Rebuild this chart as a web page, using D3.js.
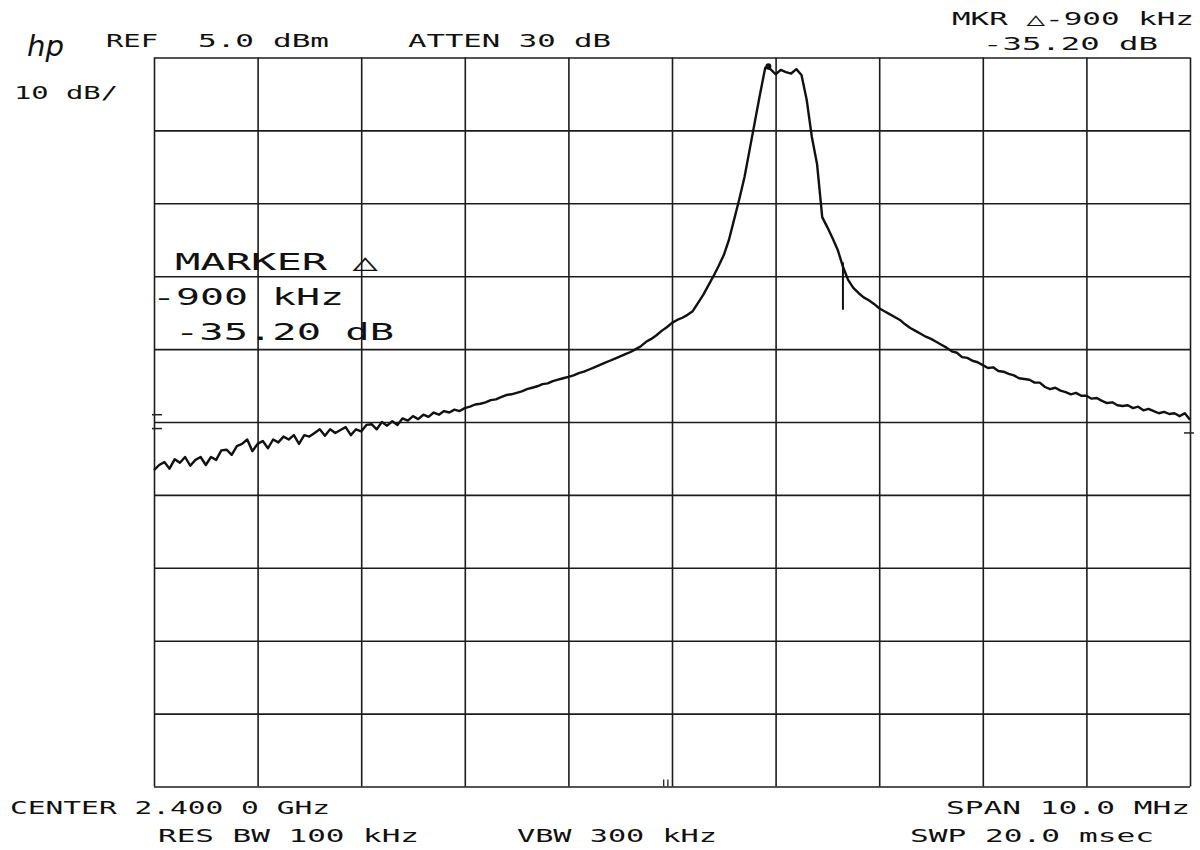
<!DOCTYPE html>
<meta charset="utf-8">
<style>
html,
body {
    margin: 0;
    padding: 0;
    overflow: hidden;
    background: #fff;
}

svg {
    display: block;
}

.grid line {
    stroke: #1c1c1c;
    stroke-width: 1.6px;
}

.grid path {
    display: none;
}

.label {
    font-family: "DejaVu Sans Mono", monospace;
    fill: #111;
}
</style>
<svg width="1200" height="850"></svg>
<script src="https://d3js.org/d3.v7.min.js"></script>
<script>
// analyzer settings (MHz offsets from center, dBm)
var refLevel = 5.0;
var dbPerDiv = 10;
var spanMHz = 10.0;
var freqDivs = [-5, -4, -3, -2, -1, 0, 1, 2, 3, 4, 5];
var levelDivs = [5, -5, -15, -25, -35, -45, -55, -65, -75, -85, -95];

// trace, one reading every 50 kHz from -5 MHz to +5 MHz (dBm)
var traceStart = -5;
var traceStep = 0.05;
var trace = [
    -51.6, -50.9, -50.5, -51.4, -50.1, -50.6, -49.8, -51.0, -50.2, -49.8,
    -50.9, -49.8, -50.2, -48.9, -48.8, -49.5, -48.3, -48.0, -47.4, -49.0,
    -48.0, -47.6, -48.6, -47.4, -47.8, -47.0, -47.4, -46.8, -48.0, -46.8,
    -47.0, -46.5, -46.0, -46.9, -46.0, -46.5, -46.1, -45.7, -46.8, -46.0,
    -46.3, -45.4, -45.3, -46.0, -45.0, -45.5, -44.9, -45.4, -44.5, -44.8,
    -44.2, -44.6, -44.0, -44.3, -43.7, -44.0, -43.5, -43.7, -43.3, -43.5,
    -43.1,
    -42.9, -42.6, -42.5, -42.3, -42.0, -41.9, -41.6, -41.3, -41.2, -41.0,
    -40.8, -40.5, -40.3, -40.1, -39.8, -39.7, -39.4, -39.2, -39.0, -38.8,
    -38.6, -38.3, -38.1, -37.8, -37.5, -37.2, -36.9, -36.6, -36.3, -36.0,
    -35.7, -35.4, -35.0, -34.6, -34.0, -33.6, -33.1, -32.5, -32.0, -31.4,
    -31.0, -30.7, -30.3, -29.8, -28.7, -27.6, -26.3, -25.0, -23.6, -22.1,
    -20.0, -17.2, -14.4, -11.4, -7.6, -3.8, 0.0, 3.6, 3.4, 2.7,
    3.3, 3.0, 2.8, 3.4, 2.6, -0.8, -5.9, -9.6, -16.9, -18.3,
    -19.8, -21.4, -23.7, -25.5, -26.6, -27.3, -27.9, -28.3, -28.8, -29.4,
    -29.8, -30.2, -30.6, -31.0, -31.6, -32.1, -32.5, -32.9, -33.3, -33.6,
    -34.0, -34.4, -34.8, -35.3, -35.5, -36.1, -36.2, -36.6, -36.8, -37.2,
    -37.6, -37.5, -38.0, -38.1, -38.4, -38.6, -39.0, -39.1, -39.2, -39.6,
    -39.6, -40.2, -40.5, -40.3, -40.7, -40.9, -41.2, -41.0, -41.4, -41.4,
    -41.8, -41.7, -42.1, -42.4, -42.3, -42.7, -42.8, -42.7, -43.1, -42.9,
    -43.4, -43.2, -43.5, -43.8, -43.6, -43.9, -43.8, -44.2, -43.8, -44.7
];

// markers
var peakMarker = { f: 0.93, db: 3.8 };
var deltaMarker = { f: 1.65, top: -23.1, bottom: -29.6 };
var leftEdgeTicks = [-44.0, -45.9];
var rightEdgeTicks = [-46.5];
var bottomTicks = [-0.08, -0.04];

// annotation text
var textLayout = [
    { t: "REF", x0: 106, x1: 158, y: 47, s: 18 },
    { t: "5.0", x0: 198, x1: 254, y: 47, s: 18 },
    { t: "dBm", x0: 273, x1: 329, y: 47, s: 18 },
    { t: "ATTEN 30 dB", x0: 408, x1: 611, y: 47, s: 18 },
    { t: "10 dB/", x0: 14, x1: 118, y: 99, s: 18 },
    { t: "MKR \u25B3-900 kHz", x0: 952, x1: 1194, y: 25, s: 18 },
    { t: "-35.20 dB", x0: 983, x1: 1158, y: 50, s: 18 },
    { t: "MARKER \u25B3", x0: 175, x1: 378, y: 270, s: 23 },
    { t: "-900 kHz", x0: 152, x1: 344, y: 305, s: 23 },
    { t: "-35.20 dB", x0: 175, x1: 394, y: 340, s: 23 },
    { t: "CENTER 2.400 0 GHz", x0: 10, x1: 330, y: 814, s: 18 },
    { t: "RES BW 100 kHz", x0: 158, x1: 419, y: 842, s: 18 },
    { t: "VBW 300 kHz", x0: 517, x1: 717, y: 842, s: 18 },
    { t: "SPAN 10.0 MHz", x0: 946, x1: 1190, y: 814, s: 18 },
    { t: "SWP 20.0 msec", x0: 910, x1: 1154, y: 842, s: 18 }
];

var svg = d3.select("svg");
var plotLeft = 154, plotRight = 1190, plotTop = 57.5, plotBottom = 786.5;

var x = d3.scaleLinear().domain([-spanMHz / 2, spanMHz / 2]).range([plotLeft, plotRight]);
var y = d3.scaleLinear().domain([refLevel - 10 * dbPerDiv, refLevel]).range([plotBottom, plotTop]);

// graticule
svg.append("g")
    .attr("class", "grid")
    .attr("transform", "translate(0," + plotBottom + ")")
    .call(d3.axisBottom(x).tickValues(freqDivs).tickSize(-(plotBottom - plotTop)).tickFormat(""));

svg.append("g")
    .attr("class", "grid")
    .attr("transform", "translate(" + plotLeft + ",0)")
    .call(d3.axisLeft(y).tickValues(levelDivs).tickSize(-(plotRight - plotLeft)).tickFormat(""));

// small edge marks
svg.selectAll(".ltick")
    .data(leftEdgeTicks)
    .enter().append("line")
    .attr("x1", plotLeft - 2).attr("x2", plotLeft + 8)
    .attr("y1", function(d) { return y(d); })
    .attr("y2", function(d) { return y(d); })
    .attr("stroke", "#222").attr("stroke-width", 1.5);

svg.selectAll(".rtick")
    .data(rightEdgeTicks)
    .enter().append("line")
    .attr("x1", plotRight - 6).attr("x2", plotRight + 4)
    .attr("y1", function(d) { return y(d); })
    .attr("y2", function(d) { return y(d); })
    .attr("stroke", "#222").attr("stroke-width", 1.5);

svg.selectAll(".btick")
    .data(bottomTicks)
    .enter().append("line")
    .attr("x1", function(d) { return x(d); })
    .attr("x2", function(d) { return x(d); })
    .attr("y1", plotBottom - 7).attr("y2", plotBottom)
    .attr("stroke", "#222").attr("stroke-width", 1.3);

// trace
var line = d3.line()
    .x(function(d, i) { return x(traceStart + i * traceStep); })
    .y(function(d) { return y(d); });

svg.append("path")
    .datum(trace)
    .attr("fill", "none")
    .attr("stroke", "#111")
    .attr("stroke-width", 2.4)
    .attr("stroke-linejoin", "round")
    .attr("d", line);

// marker
svg.append("line")
    .attr("x1", x(deltaMarker.f)).attr("x2", x(deltaMarker.f))
    .attr("y1", y(deltaMarker.top)).attr("y2", y(deltaMarker.bottom))
    .attr("stroke", "#111").attr("stroke-width", 2);

svg.append("circle")
    .attr("cx", x(peakMarker.f)).attr("cy", y(peakMarker.db))
    .attr("r", 3).attr("fill", "#111");

// hp logo
svg.append("text")
    .attr("x", 27).attr("y", 56)
    .attr("textLength", 37)
    .attr("lengthAdjust", "spacingAndGlyphs")
    .style("font-family", "DejaVu Sans")
    .style("font-style", "italic")
    .style("font-size", "28px")
    .style("fill", "#111")
    .text("hp");

svg.selectAll(".label")
    .data(textLayout)
    .enter().append("text")
    .attr("class", "label")
    .attr("x", function(d) { return d.x0; })
    .attr("y", function(d) { return d.y; })
    .attr("textLength", function(d) { return d.x1 - d.x0; })
    .attr("lengthAdjust", "spacingAndGlyphs")
    .attr("xml:space", "preserve")
    .style("font-size", function(d) { return d.s + "px"; })
    .text(function(d) { return d.t; });
</script>
